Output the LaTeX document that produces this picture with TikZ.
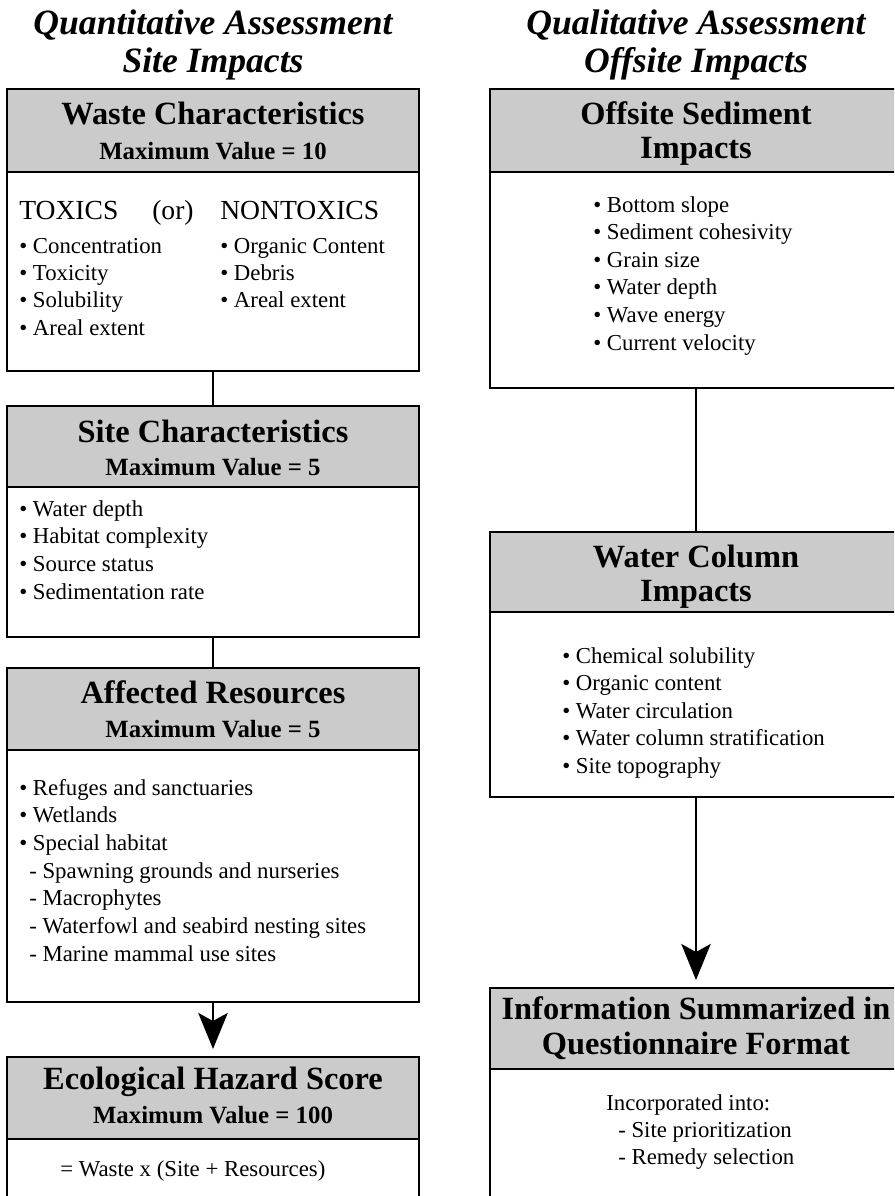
\documentclass[tikz,border=0pt]{standalone}
\usepackage{fontspec}
\setmainfont{Liberation Serif}
\usetikzlibrary{arrows.meta}
\definecolor{hdrgray}{HTML}{CBCBCB}
\def\pxu{0.75pt}
\tikzset{
  box/.style={draw, line width=2.2pt, inner sep=0pt, minimum width=412*\pxu, minimum height=#1*\pxu},
  hdr/.style={path picture={
      \fill[hdrgray] (path picture bounding box.north west) rectangle ([yshift=-#1*\pxu]path picture bounding box.north east);
      \draw[line width=2.2pt] ([yshift=-#1*\pxu]path picture bounding box.north west) -- ([yshift=-#1*\pxu]path picture bounding box.north east);}},
  ttl/.style={font=\fontsize{26.7}{30}\selectfont\bfseries\itshape, anchor=base, inner sep=0pt},
  head/.style={font=\fontsize{24.3}{28}\selectfont\bfseries, anchor=base, inner sep=0pt},
  maxv/.style={font=\fontsize{18.6}{22}\selectfont\bfseries, anchor=base, inner sep=0pt},
  body/.style={font=\fontsize{17.1}{20}\selectfont, anchor=base west, inner sep=0pt},
  bigtxt/.style={font=\fontsize{20.7}{24}\selectfont, anchor=base west, inner sep=0pt},
  conn/.style={line width=2.2pt},
  arr/.style={-{Stealth[length=27pt, width=22pt, inset=6pt]}, shorten >=4.9pt},
}
\begin{document}
\begin{tikzpicture}[x=0.75pt, y=-0.75pt]
\useasboundingbox (0,0) rectangle (894,1196);
\clip (0,0) rectangle (894,1196);
\fill[white] (0,0) rectangle (894,1196);

% titles
\node[ttl] (tq1) at (213,34) {Quantitative Assessment};
\node[ttl] (tq2) at (213,72) {Site Impacts};
\node[ttl] (tl1) at (696,34) {Qualitative Assessment};
\node[ttl] (tl2) at (696,72) {Offsite Impacts};

% left column boxes
\node[box=282, hdr=83] (waste) at (213,230) {};
\node[box=231, hdr=81] (site) at (213,521.5) {};
\node[box=334, hdr=82] (affected) at (213,835) {};
\node[box=173, hdr=82] (eco) at (213,1143.5) {};

% right column boxes
\node[box=299, hdr=83] (offsite) at (696,238.5) {};
\node[box=265, hdr=80] (water) at (696,664.5) {};
\node[box=242, hdr=81] (info) at (696,1109) {};

% connectors
\draw[conn] (waste.south) -- (site.north);
\draw[conn] (site.south) -- (affected.north);
\draw[conn, arr] (affected.south) -- (eco.north);
\draw[conn] (offsite.south) -- (water.north);
\draw[conn, arr] (water.south) -- (info.north);

% waste characteristics
\node[head] (wh) at (213,124) {Waste Characteristics};
\node[maxv] (wm) at (213,159) {Maximum Value = 10};
\node[bigtxt] (tox) at (19,219) {TOXICS};
\node[bigtxt] (orr) at (152,219) {(or)};
\node[bigtxt] (ntox) at (220,219) {NONTOXICS};
\foreach \t [count=\i from 0] in {Concentration, Toxicity, Solubility, Areal extent}
  \node[body] (txl\i) at (19,253+27.4*\i) {• \t};
\foreach \t [count=\i from 0] in {Organic Content, Debris, Areal extent}
  \node[body] (ntl\i) at (220,253+27.4*\i) {• \t};

% site characteristics
\node[head] (sh) at (213,442) {Site Characteristics};
\node[maxv] (sm) at (213,475) {Maximum Value = 5};
\foreach \t [count=\i from 0] in {Water depth, Habitat complexity, Source status, Sedimentation rate}
  \node[body] (sl\i) at (19,516+27.7*\i) {• \t};

% affected resources
\node[head] (ah) at (213,703) {Affected Resources};
\node[maxv] (am) at (213,737) {Maximum Value = 5};
\foreach \t [count=\i from 0] in {Refuges and sanctuaries, Wetlands, Special habitat}
  \node[body] (al\i) at (19,795+27.7*\i) {• \t};
\foreach \t [count=\i from 0] in {Spawning grounds and nurseries, Macrophytes, Waterfowl and seabird nesting sites, Marine mammal use sites}
  \node[body] (ad\i) at (29,878+27.7*\i) {- \t};

% ecological hazard score
\node[head] (eh) at (213,1089) {Ecological Hazard Score};
\node[maxv] (em) at (213,1123) {Maximum Value = 100};
\node[body] (ef) at (60,1176) {= Waste x (Site + Resources)};

% offsite sediment impacts
\node[head] (oh1) at (696,124) {Offsite Sediment};
\node[head] (oh2) at (696,158) {Impacts};
\foreach \t [count=\i from 0] in {Bottom slope, Sediment cohesivity, Grain size, Water depth, Wave energy, Current velocity}
  \node[body] (ol\i) at (593,212+27.6*\i) {• \t};

% water column impacts
\node[head] (ch1) at (696,567) {Water Column};
\node[head] (ch2) at (696,601) {Impacts};
\foreach \t [count=\i from 0] in {Chemical solubility, Organic content, Water circulation, Water column stratification, Site topography}
  \node[body] (cl\i) at (562,663+27.5*\i) {• \t};

% information summarized
\node[head] (ih1) at (696,1019) {Information Summarized in};
\node[head] (ih2) at (696,1054) {Questionnaire Format};
\node[body] (ib0) at (606,1110) {Incorporated into:};
\node[body] (ib1) at (618,1137) {- Site prioritization};
\node[body] (ib2) at (618,1164) {- Remedy selection};
\end{tikzpicture}
\end{document}
